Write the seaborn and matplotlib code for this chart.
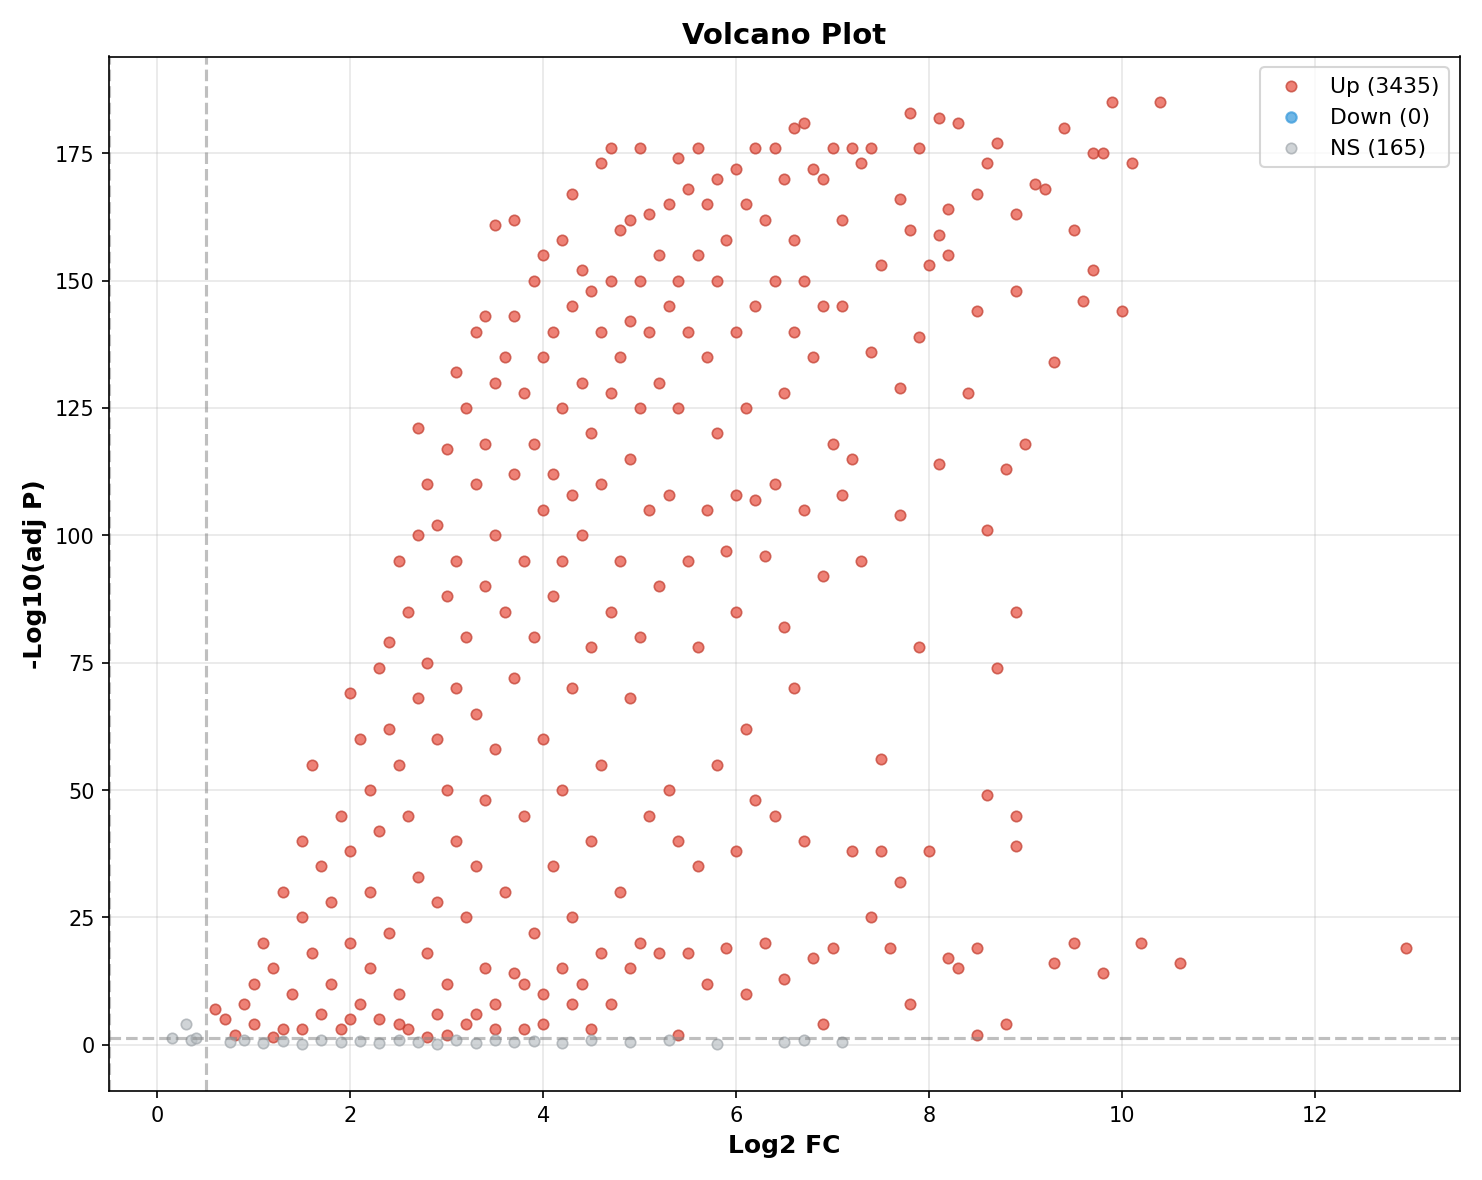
import matplotlib
matplotlib.use("Agg")
import matplotlib.pyplot as plt
import seaborn as sns

# counts shown in legend (as in the original dataset)
n_up, n_down, n_ns = 3435, 0, 165

# hand-read representative points (log2FC, -log10 adj p)
up_pts = [
    (0.6,7),(0.7,5),(0.8,2),(0.9,8),(1.0,12),(1.0,4),(1.1,20),(1.2,15),(1.3,3),(1.3,30),(1.4,10),
    (1.5,25),(1.5,40),(1.6,18),(1.6,55),(1.7,6),(1.7,35),(1.8,28),(1.8,12),(1.9,45),(1.9,3),
    (2.0,69),(2.0,38),(2.0,20),(2.1,60),(2.1,8),(2.2,50),(2.2,30),(2.2,15),(2.3,74),(2.3,42),(2.3,5),
    (2.4,79),(2.4,62),(2.4,22),(2.5,95),(2.5,55),(2.5,10),(2.6,85),(2.6,45),(2.6,3),(2.7,121),(2.7,100),
    (2.7,68),(2.7,33),(2.8,110),(2.8,75),(2.8,18),(2.9,102),(2.9,60),(2.9,28),(2.9,6),(3.0,117),(3.0,88),
    (3.0,50),(3.0,12),(3.1,132),(3.1,95),(3.1,70),(3.1,40),(3.2,125),(3.2,80),(3.2,25),(3.2,4),(3.3,140),
    (3.3,110),(3.3,65),(3.3,35),(3.4,143),(3.4,118),(3.4,90),(3.4,48),(3.4,15),(3.5,161),(3.5,130),
    (3.5,100),(3.5,58),(3.5,8),(3.6,135),(3.6,85),(3.6,30),(3.7,162),(3.7,143),(3.7,112),(3.7,72),(3.7,14),
    (3.8,128),(3.8,95),(3.8,45),(3.8,3),(3.9,150),(3.9,118),(3.9,80),(3.9,22),(4.0,155),(4.0,135),(4.0,105),
    (4.0,60),(4.0,10),(4.1,140),(4.1,112),(4.1,88),(4.1,35),(4.2,158),(4.2,125),(4.2,95),(4.2,50),(4.2,15),
    (4.3,167),(4.3,145),(4.3,108),(4.3,70),(4.3,25),(4.4,152),(4.4,130),(4.4,100),(4.4,12),(4.5,148),
    (4.5,120),(4.5,78),(4.5,40),(4.6,173),(4.6,140),(4.6,110),(4.6,55),(4.6,18),(4.7,176),(4.7,150),
    (4.7,128),(4.7,85),(4.7,8),(4.8,160),(4.8,135),(4.8,95),(4.8,30),(4.9,162),(4.9,142),(4.9,115),
    (4.9,68),(4.9,15),(5.0,176),(5.0,150),(5.0,125),(5.0,80),(5.0,20),(5.1,163),(5.1,140),(5.1,105),
    (5.1,45),(5.2,155),(5.2,130),(5.2,90),(5.2,18),(5.3,165),(5.3,145),(5.3,108),(5.3,50),(5.4,174),
    (5.4,150),(5.4,125),(5.4,40),(5.4,2),(5.5,168),(5.5,140),(5.5,95),(5.5,18),(5.6,176),(5.6,155),
    (5.6,78),(5.6,35),(5.7,165),(5.7,135),(5.7,105),(5.7,12),(5.8,170),(5.8,150),(5.8,120),(5.8,55),
    (5.9,158),(5.9,97),(5.9,19),(6.0,172),(6.0,140),(6.0,108),(6.0,85),(6.0,38),(6.1,165),(6.1,125),
    (6.1,62),(6.1,10),(6.2,176),(6.2,145),(6.2,107),(6.2,48),(6.3,162),(6.3,96),(6.3,20),(6.4,176),
    (6.4,150),(6.4,110),(6.4,45),(6.5,170),(6.5,128),(6.5,82),(6.5,13),(6.6,180),(6.6,158),(6.6,140),
    (6.6,70),(6.7,181),(6.7,150),(6.7,105),(6.7,40),(6.8,172),(6.8,135),(6.8,17),(6.9,170),(6.9,145),
    (6.9,92),(6.9,4),(7.0,176),(7.0,118),(7.0,19),(7.1,162),(7.1,145),(7.1,108),(7.2,176),(7.2,115),
    (7.2,38),(7.3,95),(7.3,173),(7.4,176),(7.4,136),(7.4,25),(7.5,153),(7.5,56),(7.5,38),(7.6,19),
    (7.7,166),(7.7,129),(7.7,104),(7.7,32),(7.8,183),(7.8,160),(7.8,8),(7.9,176),(7.9,139),(7.9,78),
    (8.0,153),(8.0,38),(8.1,182),(8.1,159),(8.1,114),(8.2,164),(8.2,155),(8.2,17),(8.3,181),(8.3,15),
    (8.4,128),(8.5,167),(8.5,144),(8.5,19),(8.5,2),(8.6,173),(8.6,101),(8.6,49),(8.7,177),(8.7,74),
    (8.8,113),(8.8,4),(8.9,163),(8.9,148),(8.9,85),(8.9,45),(8.9,39),(9.0,118),(9.1,169),(9.2,168),
    (9.3,134),(9.3,16),(9.4,180),(9.5,160),(9.5,20),(9.6,146),(9.7,175),(9.7,152),(9.8,175),(9.8,14),
    (9.9,185),(10.0,144),(10.1,173),(10.2,20),(10.4,185),(10.6,16),(12.95,19),
    (1.5,3),(2.0,5),(2.5,4),(3.0,2),(3.5,3),(4.0,4),(4.5,3),(1.2,1.5),(2.8,1.5),(3.3,6),(3.8,12),(4.3,8),
]
ns_pts = [
    (0.15,1.3),(0.3,4),(0.35,1),(0.4,1.3),(0.75,0.5),(0.9,1),(1.1,0.3),(1.3,0.8),(1.5,0.2),(1.7,1),
    (1.9,0.5),(2.1,0.8),(2.3,0.3),(2.5,1),(2.7,0.6),(2.9,0.2),(3.1,0.9),(3.3,0.4),(3.5,1),(3.7,0.5),
    (3.9,0.8),(4.2,0.3),(4.5,1),(4.9,0.6),(5.3,0.9),(5.8,0.2),(6.5,0.6),(6.7,0.9),(7.1,0.5),
]
up_x = [p[0] for p in up_pts]
up_y = [p[1] for p in up_pts]
ns_x = [p[0] for p in ns_pts]
ns_y = [p[1] for p in ns_pts]

fig, ax = plt.subplots(figsize=(9.88, 7.87), dpi=150)

kw = dict(s=25, alpha=0.7, linewidth=0.8, ax=ax)
sns.scatterplot(x=up_x, y=up_y, color="#E74C3C", edgecolor="#C0392B",
                label=f"Up ({n_up})", **kw)
ax.scatter([], [], s=25, color="#3498DB", alpha=0.7, label=f"Down ({n_down})")
sns.scatterplot(x=ns_x, y=ns_y, color="#BDC3C7", edgecolor="#A0A6AB",
                label=f"NS ({n_ns})", **kw)

ax.axhline(1.3, color="gray", linestyle="--", alpha=0.5, linewidth=1.5)
ax.axvline(0.5, color="gray", linestyle="--", alpha=0.5, linewidth=1.5)
ax.axvline(-0.5, color="gray", linestyle="--", alpha=0.5, linewidth=1.5)

ax.set_xlim(-0.5, 13.5)
ax.set_ylim(-9, 194)
ax.set_xticks(range(0, 13, 2))
ax.set_yticks(range(0, 176, 25))
ax.grid(True, alpha=0.3)
ax.set_axisbelow(True)
ax.set_xlabel("Log2 FC", fontsize=12, fontweight="bold")
ax.set_ylabel("-Log10(adj P)", fontsize=12, fontweight="bold")
ax.set_title("Volcano Plot", fontsize=14, fontweight="bold")
ax.legend(loc="upper right", fontsize=10.5)

plt.tight_layout()
fig.savefig("out.png", dpi=150)
